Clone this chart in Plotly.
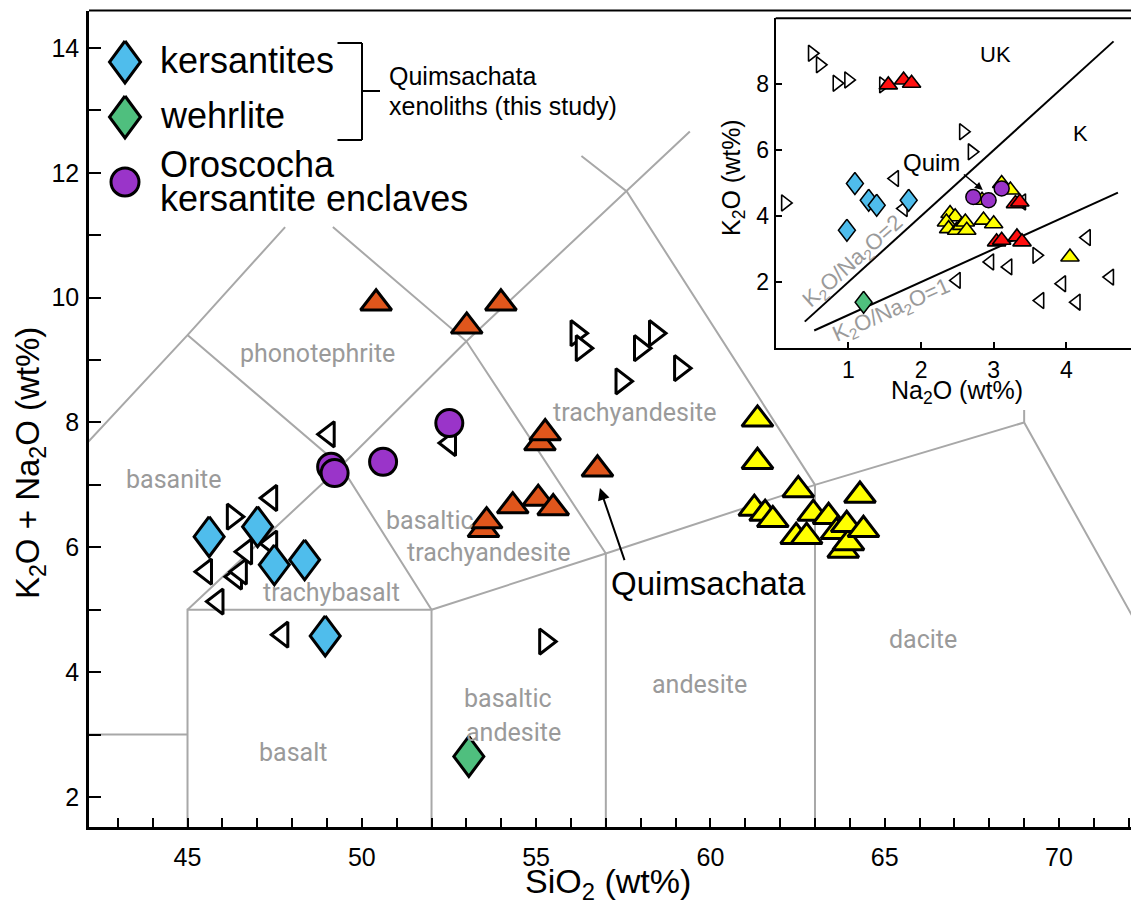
import plotly.graph_objects as go

W, H = 1131, 905

# ---------------- data: main TAS diagram (SiO2 vs Na2O+K2O, wt%) ----------------
kersantite_sio2 = [45.62, 47.01, 47.49, 48.36, 48.95]
kersantite_alk = [6.17, 6.33, 5.72, 5.80, 4.58]
wehrlite_sio2 = [53.07]
wehrlite_alk = [2.65]
oroscocha_sio2 = [49.12, 49.22, 50.61, 52.51]
oroscocha_alk = [7.29, 7.19, 7.37, 7.99]
orange_sio2 = [50.41, 53.01, 53.99, 55.11, 55.26, 56.76, 53.49, 53.58, 54.33, 55.06, 55.49]
orange_alk = [9.91, 9.54, 9.91, 7.67, 7.83, 7.25, 6.28, 6.42, 6.66, 6.78, 6.63]
yellow_sio2 = [61.35, 61.35, 62.52, 61.26, 61.57, 61.79, 62.95, 63.39, 64.29,
               62.46, 62.76, 63.62, 63.81, 63.96, 63.91, 64.39]
yellow_alk = [8.05, 7.37, 6.92, 6.62, 6.54, 6.44, 6.54, 6.49, 6.83,
              6.17, 6.17, 6.25, 5.95, 6.07, 6.36, 6.28]
openright_sio2 = [46.30, 56.16, 56.31, 57.98, 58.41, 59.13, 57.45, 55.26]
openright_alk = [6.49, 9.43, 9.19, 9.19, 9.43, 8.87, 8.66, 4.49]
openleft_sio2 = [49.05, 52.53, 47.40, 45.53, 46.39, 46.53, 46.68, 47.40, 45.86, 47.72]
openleft_alk = [7.81, 7.67, 6.79, 5.61, 5.53, 5.61, 5.93, 6.06, 5.13, 4.60]

# TAS field boundaries (visible parts), each a polyline of (SiO2, alkali)
tas_lines = [
    [(41, 7), (45, 9.4), (47.8, 11.13)],
    [(49.17, 11.13), (53, 9.3), (57, 5.9)],
    [(45, 9.4), (49.4, 7.3), (52, 5)],
    [(45, 5), (49.4, 7.3), (53, 9.3), (57.6, 11.7), (59.41, 12.66)],
    [(56.3, 12.27), (57.6, 11.7), (63, 7)],
    [(41, 3), (45, 3)],
    [(45, 0), (45, 5), (52, 5), (52, 0)],
    [(52, 5), (57, 5.9), (63, 7), (69, 8), (77, 0)],
    [(57, 0), (57, 5.9)],
    [(63, 0), (63, 7)],
    [(69, 8), (69, 8.2)],
]
field_names = ["phonotephrite", "basanite", "trachybasalt", "basaltic", "trachyandesite",
               "trachyandesite", "basaltic", "andesite", "andesite", "dacite", "basalt"]
field_x = [48.72, 44.61, 49.14, 51.95, 53.62, 57.83, 54.2, 54.35, 59.70, 66.11, 48.03]
field_y = [9.11, 7.08, 5.28, 6.43, 5.92, 8.16, 3.57, 3.04, 3.81, 4.52, 2.71]

# ---------------- data: inset (Na2O vs K2O, wt%) ----------------
ins_openright_na = [0.50, 0.61, 0.84, 1.00, 1.48, 2.58, 2.70, 0.13, 3.59]
ins_openright_k = [8.94, 8.59, 8.03, 8.13, 7.98, 6.56, 5.95, 4.40, 2.81]
ins_openleft_na = [1.64, 1.76, 2.49, 2.95, 3.20, 3.39, 4.28, 4.60, 3.94, 3.64, 4.14]
ins_openleft_k = [5.14, 4.23, 2.05, 2.61, 2.46, 4.43, 3.35, 2.15, 1.95, 1.44, 1.39]
ins_red_na = [1.55, 1.76, 1.87, 3.30, 3.36, 3.04, 3.11, 3.32, 3.39]
ins_red_k = [7.98, 8.13, 8.03, 4.38, 4.43, 3.22, 3.27, 3.37, 3.22]
ins_yellow_na = [2.40, 2.47, 2.35, 2.38, 2.49, 2.56, 2.61, 2.63, 2.86, 3.00, 2.84, 3.11, 3.23, 4.05]
ins_yellow_k = [4.08, 3.98, 3.82, 3.62, 3.57, 3.72, 3.82, 3.57, 3.88, 3.77, 4.48, 4.99, 4.79, 2.76]
ins_oros_na = [2.72, 2.93, 3.11]
ins_oros_k = [4.58, 4.48, 4.84]
ins_kers_na = [1.09, 1.28, 1.39, 1.83, 0.98]
ins_kers_k = [4.99, 4.48, 4.33, 4.48, 3.57]
ins_wehr_na = [1.21]
ins_wehr_k = [1.39]
ratio2_na = [0.40, 4.65]
ratio1_na = [0.53, 4.71]

x_tickvals = list(range(43, 73))
x_ticktext = [str(v) if v % 5 == 0 else " " for v in x_tickvals]
y_tickvals = list(range(2, 15))
y_ticktext = [str(v) if v % 2 == 0 else " " for v in y_tickvals]

# ---------------- geometry ----------------
L_PX, T_PX, B_PX = 89, 10.5, 827
X0, X1 = 42.174, 72.065
Y0, Y1 = 1.519, 14.60
KX = (W - L_PX) / (X1 - X0)
KY = (B_PX - T_PX) / (Y1 - Y0)

IL, IT, IB = 775.7, 18.3, 348
IX0, IX1 = 0.0, 4.89
IY0, IY1 = 0.0, 10.0
KX2 = (W - IL) / (IX1 - IX0)
KY2 = (IB - IT) / (IY1 - IY0)

def px(xp):
    return xp / W

def py(yp):
    return 1 - yp / H

def main_x(xp):
    return X0 + (xp - L_PX) / KX

def main_y(yp):
    return Y0 + (B_PX - yp) / KY

BLUE = "#4fbdec"
GREEN = "#4fbf7e"
PURPLE = "#9a34c9"
ORANGE = "#e0561c"
YELLOW = "#ffff00"
RED = "#ff1010"
GRAY = "#a8a8a8"
LGRAY = "#9a9a9a"

fig = go.Figure()

def diamonds(xs, ys, hw, hh, kx, ky, color, lw, xa="x", ya="y"):
    for x, y in zip(xs, ys):
        dx, dy = hw / kx, hh / ky
        fig.add_trace(go.Scatter(
            x=[x, x + dx, x, x - dx, x], y=[y + dy, y, y - dy, y, y + dy],
            mode="lines", fill="toself", fillcolor=color,
            line=dict(color="black", width=lw), xaxis=xa, yaxis=ya,
            showlegend=False, hoverinfo="skip"))

def markers(xs, ys, symbol, size, color, lw, xa="x", ya="y"):
    fig.add_trace(go.Scatter(
        x=xs, y=ys, mode="markers", xaxis=xa, yaxis=ya, showlegend=False,
        marker=dict(symbol=symbol, size=size, color=color,
                    line=dict(color="black", width=lw)),
        cliponaxis=True))

# TAS boundary lines
lx, ly = [], []
for seg in tas_lines:
    for a, b in seg:
        lx.append(a)
        ly.append(b)
    lx.append(None)
    ly.append(None)
fig.add_trace(go.Scatter(x=lx, y=ly, mode="lines", line=dict(color=GRAY, width=2),
                         showlegend=False, hoverinfo="skip"))

# main markers
markers(openright_sio2, openright_alk, "triangle-right", 22, "white", 3)
markers(openleft_sio2, openleft_alk, "triangle-left", 22, "white", 3)
markers(orange_sio2, orange_alk, "triangle-up", 27, ORANGE, 3)
markers(yellow_sio2, yellow_alk, "triangle-up", 27, YELLOW, 3)
diamonds(kersantite_sio2, kersantite_alk, 15, 20, KX, KY, BLUE, 3)
diamonds(wehrlite_sio2, wehrlite_alk, 15, 20, KX, KY, GREEN, 3)
markers(oroscocha_sio2, oroscocha_alk, "circle", 27, PURPLE, 3)

# legend samples (positions in layout pixels converted to main axes)
diamonds([main_x(125)], [main_y(62)], 15.5, 21, KX, KY, BLUE, 3)
diamonds([main_x(125)], [main_y(117)], 15.5, 21, KX, KY, GREEN, 3)
markers([main_x(125)], [main_y(182)], "circle", 28, PURPLE, 3)

# inset lines
fig.add_trace(go.Scatter(x=ratio2_na, y=[2 * v for v in ratio2_na], mode="lines",
                         line=dict(color="black", width=2), xaxis="x2", yaxis="y2",
                         showlegend=False, hoverinfo="skip"))
fig.add_trace(go.Scatter(x=ratio1_na, y=[1 * v for v in ratio1_na], mode="lines",
                         line=dict(color="black", width=2), xaxis="x2", yaxis="y2",
                         showlegend=False, hoverinfo="skip"))
markers(ins_openright_na, ins_openright_k, "triangle-right", 14, "white", 1.6, "x2", "y2")
markers(ins_openleft_na, ins_openleft_k, "triangle-left", 14, "white", 1.6, "x2", "y2")
markers(ins_red_na, ins_red_k, "triangle-up", 16, RED, 1.6, "x2", "y2")
markers(ins_yellow_na, ins_yellow_k, "triangle-up", 16, YELLOW, 1.6, "x2", "y2")
diamonds(ins_kers_na, ins_kers_k, 8.5, 11, KX2, KY2, BLUE, 1.5, "x2", "y2")
diamonds(ins_wehr_na, ins_wehr_k, 8.5, 11, KX2, KY2, GREEN, 1.5, "x2", "y2")
markers(ins_oros_na, ins_oros_k, "circle", 15, PURPLE, 1.5, "x2", "y2")

FONT = "Liberation Sans, Arial, sans-serif"
RFONT = "Roboto, Liberation Sans, sans-serif"

ann = []
for name, x, y in zip(field_names, field_x, field_y):
    ann.append(dict(x=x, y=y, xref="x", yref="y", text=name, showarrow=False,
                    font=dict(family=RFONT, size=25, color=LGRAY)))

def ptext(t, xp, yp, size, xanchor="left", color="black", angle=0):
    return dict(x=px(xp), y=py(yp), xref="paper", yref="paper", text=t,
                showarrow=False, xanchor=xanchor, yanchor="middle", textangle=angle,
                font=dict(family=FONT, size=size, color=color))

ann += [
    ptext("kersantites", 158, 60, 36),
    ptext("wehrlite", 158, 115, 36),
    ptext("Oroscocha", 158, 165, 36),
    ptext("kersantite enclaves", 158, 199, 36),
    ptext("Quimsachata", 387, 76, 25),
    ptext("xenoliths (this study)", 387, 106, 25),
    ptext("SiO<sub>2</sub> (wt%)", 608, 883, 34, xanchor="center"),
    ptext("K<sub>2</sub>O + Na<sub>2</sub>O (wt%)", 30, 463, 33, xanchor="center", angle=-90),
    ptext("Na<sub>2</sub>O (wt%)", 957, 392, 25, xanchor="center"),
    ptext("K<sub>2</sub>O (wt%)", 733, 178, 25, xanchor="center", angle=-90),
]
ann.append(dict(x=59.94, y=5.42, xref="x", yref="y", text="Quimsachata", showarrow=False,
                font=dict(family=FONT, size=33, color="black")))
ann.append(dict(x=56.83, y=6.95, ax=57.55, ay=5.77, xref="x", yref="y", axref="x", ayref="y",
                text="", showarrow=True, arrowhead=2, arrowsize=1.2, arrowwidth=2,
                arrowcolor="black"))
ann.append(dict(x=2.15, y=5.64, xref="x2", yref="y2", text="Quim", showarrow=False,
                font=dict(family=FONT, size=24, color="black")))
ann.append(dict(x=2.85, y=4.79, ax=2.57, ay=5.30, xref="x2", yref="y2", axref="x2", ayref="y2",
                text="", showarrow=True, arrowhead=2, arrowsize=1, arrowwidth=1.6,
                arrowcolor="black"))
ann.append(dict(x=3.02, y=8.89, xref="x2", yref="y2", text="UK", showarrow=False,
                font=dict(family=FONT, size=22, color="black")))
ann.append(dict(x=4.19, y=6.52, xref="x2", yref="y2", text="K", showarrow=False,
                font=dict(family=FONT, size=22, color="black")))
ann.append(dict(x=1.07, y=2.6, xref="x2", yref="y2",
                text="K<sub>2</sub>O/Na<sub>2</sub>O=2", showarrow=False, textangle=-42,
                font=dict(family=FONT, size=22, color=LGRAY)))
ann.append(dict(x=1.6, y=1.12, xref="x2", yref="y2",
                text="K<sub>2</sub>O/Na<sub>2</sub>O=1", showarrow=False, textangle=-24,
                font=dict(family=FONT, size=22, color=LGRAY)))

shapes = []
def pline(x0, y0, x1, y1, w=2):
    shapes.append(dict(type="line", xref="paper", yref="paper", x0=px(x0), y0=py(y0),
                       x1=px(x1), y1=py(y1), line=dict(color="black", width=w)))

pline(337.5, 43, 362, 43)
pline(362, 43, 362, 140)
pline(337.5, 140, 362, 140)
pline(362, 91, 380, 91)
pline(L_PX, T_PX, W, T_PX, 2)
pline(IL, IT, W, IT, 2)

fig.update_layout(
    width=W, height=H, margin=dict(l=0, r=0, t=0, b=0),
    paper_bgcolor="white", plot_bgcolor="rgba(0,0,0,0)",
    showlegend=False, annotations=ann, shapes=shapes,
    xaxis=dict(domain=[px(L_PX), 1], range=[X0, X1], tickvals=x_tickvals, ticktext=x_ticktext,
               ticks="inside", ticklen=9, tickwidth=1.5, tickcolor="black",
               showline=True, linewidth=3, linecolor="black", showgrid=False, zeroline=False,
               tickfont=dict(family=FONT, size=25, color="black"), ticklabelstandoff=6,
               anchor="y", automargin=False),
    yaxis=dict(domain=[py(B_PX), py(T_PX)], range=[Y0, Y1], tickvals=y_tickvals,
               ticktext=y_ticktext, ticks="inside", ticklen=12, tickwidth=1.5,
               tickcolor="black", showline=True, linewidth=2.5, linecolor="black",
               showgrid=False, zeroline=False, tickfont=dict(family=FONT, size=25, color="black"),
               ticklabelstandoff=2, anchor="x", automargin=False),
    xaxis2=dict(domain=[px(IL), 1], range=[IX0, IX1], tickvals=[1, 2, 3, 4],
                ticks="inside", ticklen=6, tickwidth=1.5, tickcolor="black",
                showline=True, linewidth=2, linecolor="black", showgrid=False, zeroline=False,
                tickfont=dict(family=FONT, size=23, color="black"), anchor="y2",
                automargin=False),
    yaxis2=dict(domain=[py(IB), py(IT)], range=[IY0, IY1], tickvals=[2, 4, 6, 8],
                ticks="inside", ticklen=6, tickwidth=1.5, tickcolor="black",
                showline=True, linewidth=2, linecolor="black", showgrid=False, zeroline=False,
                tickfont=dict(family=FONT, size=23, color="black"), anchor="x2",
                automargin=False),
)

fig.write_html("out.html")
